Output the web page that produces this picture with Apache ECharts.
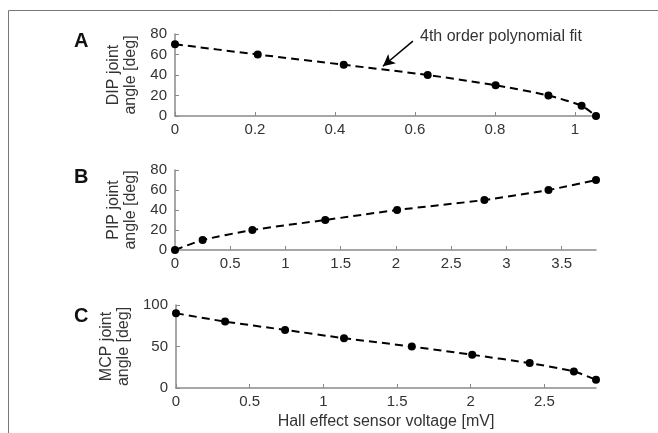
<!DOCTYPE html>
<html>
<head>
<meta charset="utf-8">
<script src="https://cdn.jsdelivr.net/npm/echarts@6/dist/echarts.min.js"></script>
<style>
    html, body { margin: 0; padding: 0; background: #fff; }
    #main { width: 658px; height: 433px; }
</style>
</head>
<body>
<div id="main"></div>
<script>
// panel A: DIP
var dipVolt = [0, 0.207, 0.422, 0.632, 0.802, 0.934, 1.017, 1.053];
var dipAngle = [70, 60, 50, 40, 30, 20, 10, 0];
var dipXTicks = [0, 0.2, 0.4, 0.6, 0.8, 1];
// panel B: PIP
var pipVolt = [0, 0.25, 0.70, 1.36, 2.01, 2.80, 3.38, 3.81];
var pipAngle = [0, 10, 20, 30, 40, 50, 60, 70];
var pipXTicks = [0, 0.5, 1, 1.5, 2, 2.5, 3, 3.5];
// panel C: MCP
var mcpVolt = [0, 0.333, 0.74, 1.14, 1.60, 2.01, 2.40, 2.70, 2.85];
var mcpAngle = [90, 80, 70, 60, 50, 40, 30, 20, 10];
var mcpXTicks = [0, 0.5, 1, 1.5, 2, 2.5];

var fontFam = '"Liberation Sans", Arial, sans-serif';
var axisGray = '#8a8a8a';
var textCol = '#333';

function pairs(xs, ys) {
    var out = [];
    for (var i = 0; i < xs.length; i++) {
        out.push([xs[i], ys[i]]);
    }
    return out;
}

function xAxisFor(idx, max, ticks, name) {
    return {
        type: 'value',
        gridIndex: idx,
        min: 0,
        max: max,
        splitLine: { show: false },
        axisLine: { lineStyle: { color: axisGray, width: 1.5 } },
        axisTick: { inside: true, length: 4, lineStyle: { color: axisGray }, customValues: ticks },
        axisLabel: { customValues: ticks, color: textCol, fontSize: 15, fontFamily: fontFam, margin: 6 },
        name: name || '',
        nameLocation: 'middle',
        nameGap: 26,
        nameTextStyle: { color: textCol, fontSize: 16, fontFamily: fontFam }
    };
}

function yAxisFor(idx, max, step, name) {
    return {
        type: 'value',
        gridIndex: idx,
        min: 0,
        max: max,
        interval: step,
        splitLine: { show: false },
        axisLine: { show: true, lineStyle: { color: axisGray, width: 1.5 } },
        axisTick: { show: true, inside: true, length: 4, lineStyle: { color: axisGray } },
        axisLabel: { color: textCol, fontSize: 15, fontFamily: fontFam, margin: 8 },
        name: name,
        nameLocation: 'middle',
        nameRotate: 90,
        nameGap: 36,
        nameTextStyle: { color: textCol, fontSize: 16, fontFamily: fontFam, lineHeight: 17 }
    };
}

function fitSeries(idx, data, extra) {
    var s = {
        type: 'line',
        xAxisIndex: idx,
        yAxisIndex: idx,
        data: data,
        smooth: 0.2,
        clip: false,
        symbol: 'circle',
        symbolSize: 8,
        itemStyle: { color: '#000' },
        lineStyle: { color: '#000', width: 2, type: [8, 5] }
    };
    if (extra) {
        for (var k in extra) s[k] = extra[k];
    }
    return s;
}

var chart = echarts.init(document.getElementById('main'));
var option = {
    animation: false,
    backgroundColor: '#fff',
    grid: [
        { left: 175, right: 62, top: 34, height: 82 },
        { left: 175, right: 62, top: 170, height: 80 },
        { left: 176, right: 62, top: 305, height: 83 }
    ],
    xAxis: [
        xAxisFor(0, 1.053, dipXTicks),
        xAxisFor(1, 3.81, pipXTicks),
        xAxisFor(2, 2.85, mcpXTicks, 'Hall effect sensor voltage [mV]')
    ],
    yAxis: [
        yAxisFor(0, 80, 20, 'DIP joint\nangle [deg]'),
        yAxisFor(1, 80, 20, 'PIP joint\nangle [deg]'),
        yAxisFor(2, 100, 50, 'MCP joint\nangle [deg]')
    ],
    series: [
        fitSeries(0, pairs(dipVolt, dipAngle), {
            markLine: {
                silent: true,
                symbol: ['none', 'arrow'],
                symbolSize: [9, 12],
                label: { show: false },
                lineStyle: { color: '#000', width: 1.5, type: 'solid' },
                data: [[{ coord: [0.595, 73] }, { coord: [0.52, 48.5] }]]
            }
        }),
        fitSeries(1, pairs(pipVolt, pipAngle)),
        fitSeries(2, pairs(mcpVolt, mcpAngle))
    ],
    graphic: [
        {
            type: 'rect',
            shape: { x: 8.5, y: 10.5, width: 700, height: 500 },
            style: { fill: 'none', stroke: '#777', lineWidth: 1 },
            silent: true
        },
        { type: 'text', left: 74, top: 31, style: { text: 'A', font: 'bold 20px ' + fontFam, fill: '#111' } },
        { type: 'text', left: 74, top: 167, style: { text: 'B', font: 'bold 20px ' + fontFam, fill: '#111' } },
        { type: 'text', left: 74, top: 306, style: { text: 'C', font: 'bold 20px ' + fontFam, fill: '#111' } },
        { type: 'text', left: 420, top: 29, style: { text: '4th order polynomial fit', font: '16px ' + fontFam, fill: textCol } }
    ]
};
chart.setOption(option);
</script>
</body>
</html>
